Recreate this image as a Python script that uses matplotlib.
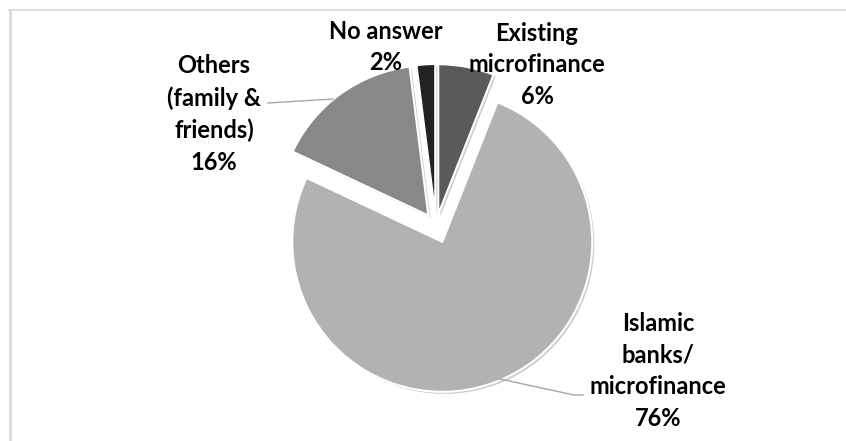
import matplotlib
matplotlib.use("Agg")
import matplotlib.pyplot as plt
import matplotlib.patheffects as pe
from matplotlib.lines import Line2D

# slices, clockwise from 12 o'clock
labels = ["Existing\nmicrofinance", "Islamic\nbanks/\nmicrofinance",
          "Others\n(family &\nfriends)", "No answer"]
values = [6, 76, 16, 2]
colors = ["#5a5a5a", "#b2b2b2", "#888888", "#222222"]

W, H = 846, 441
R = 150
# explode offsets in pixels (pie uses data units)
explode = [12, 17, 13, 12]

fig = plt.figure(figsize=(W / 100, H / 100), dpi=100)
ax = fig.add_axes([0, 0, 1, 1])

wedges, _ = ax.pie(values, colors=colors, explode=explode, startangle=90,
                   counterclock=False, radius=R, center=(436, H - 226),
                   wedgeprops=dict(edgecolor="white", linewidth=1.5))
for w in wedges:
    w.set_path_effects([pe.SimplePatchShadow(offset=(1.5, -1.5), alpha=0.2,
                                             shadow_rgbFace="black"),
                        pe.Normal()])

ax.set_xlim(0, W)
ax.set_ylim(0, H)
ax.set_aspect("equal")
ax.axis("off")

# label block centres (image pixels, y from top)
label_pos = [(537, 65), (658, 371), (214, 114), (386, 47)]
total = sum(values)
for lab, v, (x, y) in zip(labels, values, label_pos):
    ax.text(x, H - y, "%s\n%d%%" % (lab, round(100 * v / total)),
            ha="center", va="center", fontsize=17, fontweight="bold",
            family="Lato", color="black", linespacing=1.45)

# leader lines
lc = "#a6a6a6"
ax.plot([268, 333], [H - 103, H - 99], color=lc, lw=1)
ax.plot([500, 574, 583], [H - 379, H - 395, H - 395], color=lc, lw=1)

# frame (top and left edges)
fig.add_artist(Line2D([9 / W, 1], [1 - 10 / H, 1 - 10 / H], color="#d9d9d9", lw=1.2))
fig.add_artist(Line2D([10 / W, 10 / W], [0, 1 - 10 / H], color="#d9d9d9", lw=2))

fig.savefig("out.png", dpi=100)
